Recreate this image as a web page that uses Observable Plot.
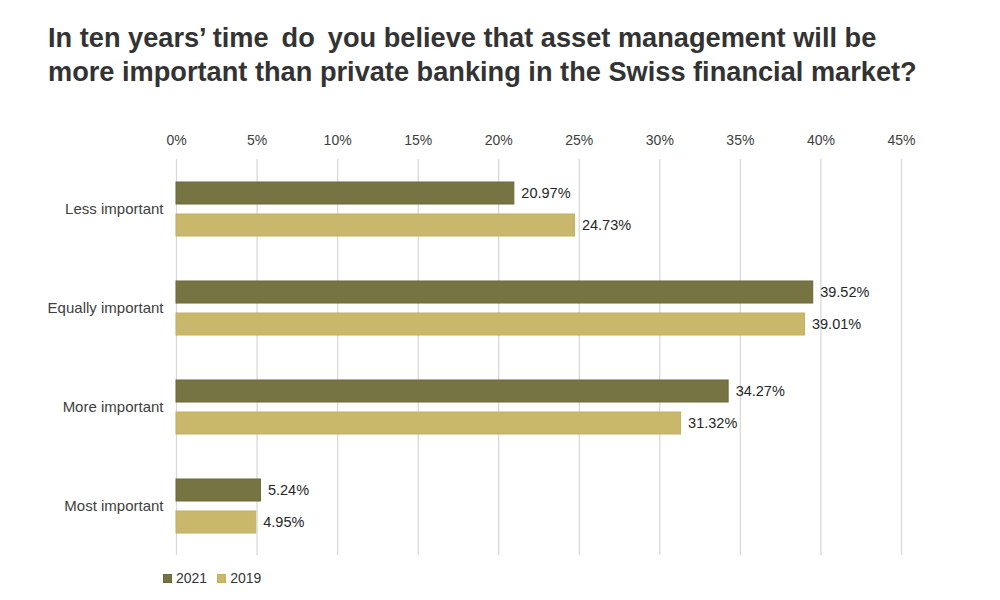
<!DOCTYPE html>
<html>
<head>
<meta charset="utf-8">
<script src="https://cdn.jsdelivr.net/npm/d3@7"></script>
<script src="https://cdn.jsdelivr.net/npm/@observablehq/plot@0.6"></script>
<style>
  html, body { margin: 0; padding: 0; background: #fff; }
  body { width: 1000px; height: 600px; position: relative; overflow: hidden; font-family: "Liberation Sans", Arial, sans-serif; }
  #title { position: absolute; left: 48px; top: 21px; font-size: 27.2px; font-weight: bold; color: #333; line-height: 34px; margin: 0; white-space: nowrap; }
  #chart { position: absolute; left: 0; top: 110px; }
  #legend { position: absolute; left: 163px; top: 570px; font-size: 14px; color: #333; display: flex; gap: 10px; }
  #legend span.item { display: flex; align-items: center; }
  #legend span.sw { display: inline-block; width: 9px; height: 9px; margin-right: 4px; }
</style>
</head>
<body>
<h1 id="title">In ten years’ time&thinsp; do&thinsp; you believe that asset management will be<br>more important than private banking in the Swiss financial market?</h1>
<div id="chart"></div>
<div id="legend"></div>
<script>
const categories = ["Less important", "Equally important", "More important", "Most important"];
const years = ["2021", "2019"];
const values2021 = [20.97, 39.52, 34.27, 5.24];
const values2019 = [24.73, 39.01, 31.32, 4.95];
const xTicks = [0, 5, 10, 15, 20, 25, 30, 35, 40, 45];
const colors = ["#777444", "#c9b86c"];
const strokes = ["#6a6739", "#c2af5c"];

const data = [];
categories.forEach((c, i) => {
  data.push({category: c, year: "2021", value: values2021[i]});
  data.push({category: c, year: "2019", value: values2019[i]});
});

const chart = Plot.plot({
  width: 1000,
  height: 446,
  marginLeft: 176,
  marginRight: 99,
  marginTop: 49,
  marginBottom: 1,
  style: {fontFamily: "Liberation Sans, Arial, sans-serif", fontSize: "14px", color: "#404040"},
  x: {domain: [0, 45], axis: null},
  y: {domain: years, paddingInner: 0.3125, paddingOuter: 0.703, axis: null},
  fy: {domain: categories, padding: 0, axis: null},
  color: {domain: years, range: colors},
  marks: [
    Plot.gridX(xTicks, {stroke: "#d9d9d9", strokeOpacity: 1, strokeWidth: 1.3}),
    Plot.axisX(xTicks, {anchor: "top", label: null, tickSize: 0, tickPadding: 15, tickFormat: d => d + "%", fontSize: 14, fill: "#404040", facetAnchor: "top"}),
    Plot.axisFy({anchor: "left", tickSize: 0, tickPadding: 13, fontSize: 15, fill: "#404040", label: null, textAnchor: "end"}),
    Plot.barX(data, {x: "value", y: "year", fy: "category", fill: "year", stroke: d => d.year === "2021" ? strokes[0] : strokes[1], strokeWidth: 1}),
    Plot.text(data, {x: "value", y: "year", fy: "category", text: d => d.value.toFixed(2) + "%", textAnchor: "start", dx: 7, fill: "#262626", fontSize: 14.5})
  ]
});
document.getElementById("chart").appendChild(chart);

const legend = document.getElementById("legend");
years.forEach((y, i) => {
  const item = document.createElement("span");
  item.className = "item";
  const sw = document.createElement("span");
  sw.className = "sw";
  sw.style.background = colors[i];
  sw.style.border = "1px solid " + strokes[i];
  sw.style.boxSizing = "border-box";
  item.appendChild(sw);
  item.appendChild(document.createTextNode(y));
  legend.appendChild(item);
});
</script>
</body>
</html>
